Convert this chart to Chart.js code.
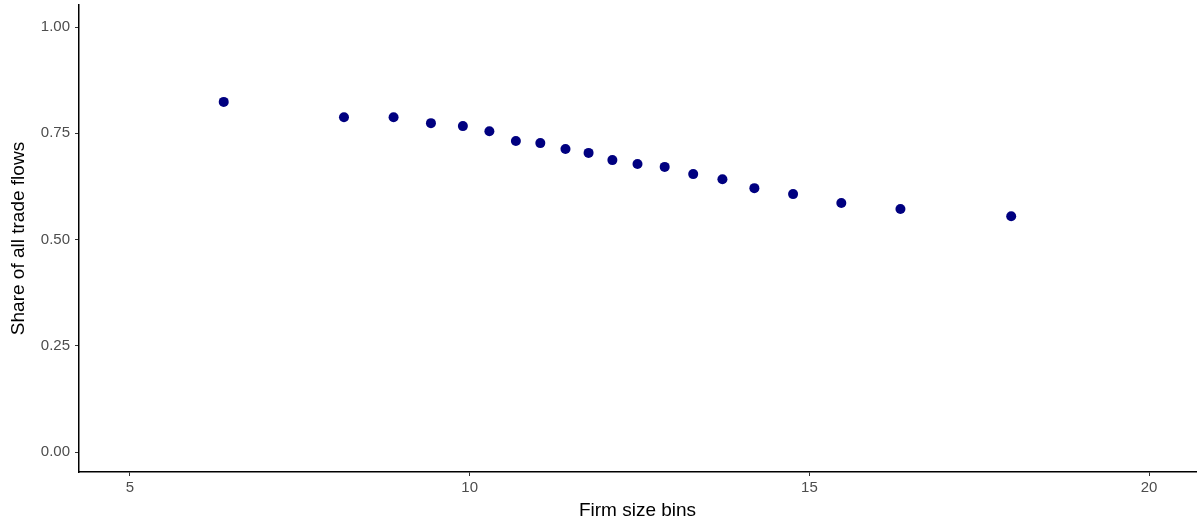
<!DOCTYPE html>
<html>
<head>
<meta charset="utf-8">
<script src="https://cdn.jsdelivr.net/npm/chart.js@4"></script>
<style>
  html, body { margin: 0; padding: 0; background: #fff; overflow: hidden; }
  #wrap { width: 1197px; height: 527px; overflow: hidden; }
</style>
</head>
<body>
<div id="wrap"><canvas id="shareChart" width="1201" height="527"></canvas></div>
<script>
// firm size bins (x) and share of all trade flows (y)
const firmSize = [6.38, 8.15, 8.88, 9.43, 9.90, 10.29, 10.68, 11.04, 11.41, 11.75,
                  12.10, 12.47, 12.87, 13.29, 13.72, 14.19, 14.76, 15.47, 16.34, 17.97];
const share = [0.824, 0.788, 0.788, 0.774, 0.767, 0.755, 0.732, 0.727, 0.713, 0.704,
               0.687, 0.678, 0.671, 0.654, 0.642, 0.621, 0.607, 0.586, 0.572, 0.555];
const xTicks = [5, 10, 15, 20];
const yTicks = [0, 0.25, 0.5, 0.75, 1];

document.addEventListener("DOMContentLoaded", function() {
    const ctx = document.getElementById("shareChart").getContext("2d");
    const points = firmSize.map((x, i) => ({ x: x, y: share[i] }));
    const fontFamily = 'Liberation Sans, Arial, sans-serif';

    new Chart(ctx, {
        type: 'scatter',
        data: {
            datasets: [{
                data: points,
                backgroundColor: '#000080',
                borderColor: '#000080',
                borderWidth: 0,
                pointRadius: 5,
                pointHoverRadius: 5
            }]
        },
        options: {
            responsive: false,
            animation: false,
            layout: { padding: { top: 4, right: 0, left: 0, bottom: 0 } },
            plugins: {
                legend: { display: false },
                tooltip: { enabled: false }
            },
            scales: {
                x: {
                    type: 'linear',
                    min: 4.25,
                    max: 20.69,
                    afterBuildTicks: scale => {
                        scale.ticks = xTicks.map(v => ({ value: v }));
                    },
                    afterFit: scale => {
                        scale.height = 55;
                        scale.paddingLeft = 0;
                        scale.paddingRight = 0;
                    },
                    grid: {
                        drawOnChartArea: false,
                        drawTicks: true,
                        tickLength: 4,
                        color: '#333333'
                    },
                    border: { display: true, color: '#000000', width: 1.5 },
                    ticks: {
                        color: '#4d4d4d',
                        font: { family: fontFamily, size: 15 },
                        padding: 3,
                        maxRotation: 0
                    },
                    title: {
                        display: true,
                        text: 'Firm size bins',
                        color: '#000000',
                        font: { family: fontFamily, size: 19 },
                        padding: { top: 0, bottom: 5 }
                    }
                },
                y: {
                    type: 'linear',
                    min: -0.047,
                    max: 1.052,
                    afterBuildTicks: scale => {
                        scale.ticks = yTicks.map(v => ({ value: v }));
                    },
                    afterFit: scale => {
                        scale.width = 79;
                        scale.paddingTop = 0;
                        scale.paddingBottom = 0;
                    },
                    grid: {
                        drawOnChartArea: false,
                        drawTicks: true,
                        tickLength: 4,
                        color: '#333333'
                    },
                    border: { display: true, color: '#000000', width: 1.5 },
                    ticks: {
                        color: '#4d4d4d',
                        font: { family: fontFamily, size: 15 },
                        padding: 5,
                        callback: v => v.toFixed(2)
                    },
                    title: {
                        display: true,
                        text: 'Share of all trade flows',
                        color: '#000000',
                        font: { family: fontFamily, size: 19 },
                        padding: { top: 7, bottom: 4 }
                    }
                }
            }
        }
    });
});
</script>
</body>
</html>
